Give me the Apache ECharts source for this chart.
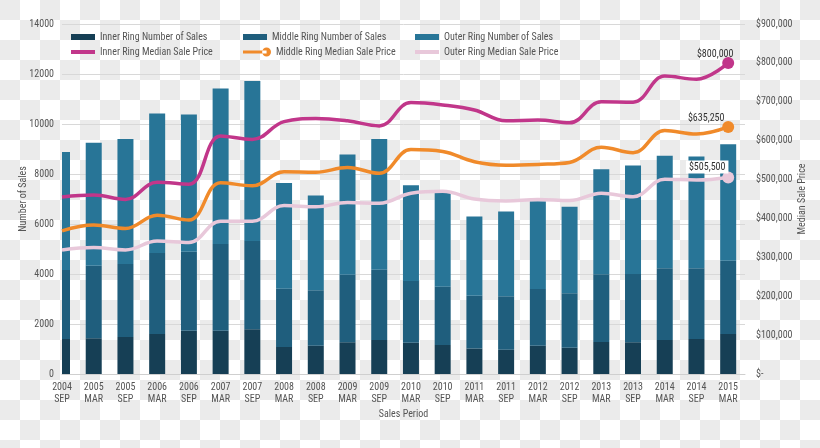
<!DOCTYPE html>
<html>
<head>
<meta charset="utf-8">
<script src="https://cdn.jsdelivr.net/npm/echarts@6/dist/echarts.min.js"></script>
<style>
html,body{margin:0;padding:0;}
body{width:820px;height:448px;
background-image:conic-gradient(#ffffff 25%, #ebebeb 0 50%, #ffffff 0 75%, #ebebeb 0);
background-size:40px 40px;}
#c{width:820px;height:448px;}
</style>
</head>
<body>
<div id="c"></div>
<script>
const categories = ['2004\nSEP','2005\nMAR','2005\nSEP','2006\nMAR','2006\nSEP','2007\nMAR','2007\nSEP','2008\nMAR','2008\nSEP','2009\nMAR','2009\nSEP','2010\nMAR','2010\nSEP','2011\nMAR','2011\nSEP','2012\nMAR','2012\nSEP','2013\nMAR','2013\nSEP','2014\nMAR','2014\nSEP','2015\nMAR'];
const innerSales  = [1400,1430,1480,1600,1730,1730,1790,1080,1130,1270,1360,1250,1160,1020,970,1130,1050,1280,1270,1360,1400,1600];
const middleSales = [2760,2900,2920,3240,3160,3470,3530,2330,2220,2700,2810,2470,2330,2110,2140,2270,2180,2710,2730,2870,2830,2930];
const outerSales  = [4720,4920,5000,5580,5490,6220,6400,4230,3790,4810,5230,3830,3820,3170,3390,3510,3460,4200,4340,4500,4470,4660];
const innerPrice  = [455000,460000,449000,493000,488000,612000,603000,649000,657000,651000,638000,698000,692000,679000,651000,653000,646000,700000,699000,766000,758000,800000];
const middlePrice = [368000,383000,374000,408000,396000,492000,484000,520000,519000,531000,516000,577000,572000,546000,537000,539000,544000,583000,569000,626000,617000,635250];
const outerPrice  = [319000,325000,319000,342000,338000,393000,393000,433000,430000,441000,439000,465000,470000,450000,445000,449000,446000,465000,456000,501000,499000,505500];
const salesTicks = [0,2000,4000,6000,8000,10000,12000,14000];
const priceTicks = [0,100000,200000,300000,400000,500000,600000,700000,800000,900000];

const FONT = "'Liberation Sans Narrow','Arial Narrow','Roboto Condensed','Liberation Sans',sans-serif";
const C = {
  inner:'#163f55', middle:'#1f5e7d', outer:'#287597',
  innerP:'#c1368a', middleP:'#f08a2a', outerP:'#e8c8da'
};
const money = v => v === 0 ? '$-' : '$' + v.toLocaleString('en-US');

// stacked segments [index, base, top]
const innerTop  = innerSales.slice();
const middleTop = innerSales.map((v,i)=>v + middleSales[i]);
const outerTop  = middleTop.map((v,i)=>v + outerSales[i]);
const seg = (base, top) => top.map((t,i)=>[i, base ? base[i] : 0, t]);

function barRender(color){
  return function(params, api){
    const i = api.value(0);
    const p0 = api.coord([i, api.value(1)]);
    const p1 = api.coord([i, api.value(2)]);
    const half = 8;
    const rect = echarts.graphic.clipRectByRect(
      {x:p0[0]-half, y:p1[1], width:half*2, height:p0[1]-p1[1]},
      {x:params.coordSys.x, y:params.coordSys.y, width:params.coordSys.width, height:params.coordSys.height});
    if (!rect) return;
    return {type:'rect', shape:rect, style:{fill:color}};
  };
}
function barSeries(name, data, color, z){
  return {name:name, type:'custom', renderItem:barRender(color), data:data,
    encode:{x:0, y:[1,2]}, itemStyle:{color:color}, z:z, clip:true};
}

function pts(arr){ return arr.map((v,i)=>[i,v]); }
function linePts(arr, color, labelOpt){
  const d = pts(arr);
  const last = d.length-1;
  d[last] = {value:d[last], symbol:'circle', symbolSize:12,
    itemStyle:{color:color},
    label:Object.assign({show:true, formatter: money(arr[last]), position:'top',
      fontFamily:FONT, fontSize:10, color:'#333'}, labelOpt)};
  return d;
}

const chart = echarts.init(document.getElementById('c'));
const textStyle = {fontFamily:FONT, fontSize:10, color:'#555'};
function leg(name, left, top, opts){
  return Object.assign({data:[name], left:left, top:top, itemWidth:24, itemHeight:6,
    icon:'rect', textStyle:textStyle, selectedMode:false, padding:0, itemGap:0}, opts||{});
}
chart.setOption({
  animation:false,
  textStyle:{fontFamily:FONT},
  legend:[
    leg('Inner Ring Number of Sales', 71, 32),
    leg('Middle Ring Number of Sales', 243, 32),
    leg('Outer Ring Number of Sales', 415, 32),
    leg('Inner Ring Median Sale Price', 71, 47, {itemHeight:4}),
    leg('Middle Ring Median Sale Price', 243, 47, {itemWidth:28, itemHeight:9,
      icon:'path://M0,3L24,3L24,6L0,6Z M19.5,4.5 a4.5,4.5 0 1,0 9,0 a4.5,4.5 0 1,0 -9,0Z'}),
    leg('Outer Ring Median Sale Price', 415, 47, {itemHeight:4})
  ],
  grid:{left:62, right:75, top:24, bottom:74},
  xAxis:{
    type:'value', min:0, max:21.53, interval:1,
    name:'Sales Period', nameLocation:'middle', nameGap:35, nameMoveOverlap:false,
    nameTextStyle:{fontFamily:FONT, fontSize:10, color:'#555'},
    axisLine:{show:true, lineStyle:{color:'#cfcfcf'}},
    axisTick:{show:false},
    splitLine:{show:false},
    axisLabel:{showMaxLabel:false, margin:7, lineHeight:12, fontFamily:FONT, fontSize:10, color:'#555',
      formatter:v => categories[Math.round(v)] || ''}
  },
  yAxis:[
    {type:'value', min:salesTicks[0], max:salesTicks[salesTicks.length-1], interval:2000,
     name:'Number of Sales', nameLocation:'middle', nameGap:34, nameMoveOverlap:false,
     nameTextStyle:{fontFamily:FONT, fontSize:10, color:'#555'},
     axisLine:{show:false}, axisTick:{show:false},
     splitLine:{lineStyle:{color:'#d8d8d8'}},
     axisLabel:{margin:8, fontFamily:FONT, fontSize:10, color:'#555', formatter:v=>String(v)}},
    {type:'value', min:priceTicks[0], max:priceTicks[priceTicks.length-1], interval:100000,
     name:'Median Sale Price', nameLocation:'middle', nameGap:52, nameMoveOverlap:false,
     nameTextStyle:{fontFamily:FONT, fontSize:10, color:'#555'},
     axisLine:{show:false}, axisTick:{show:false}, splitLine:{show:false},
     axisLabel:{margin:11, fontFamily:FONT, fontSize:10, color:'#555', formatter:money}}
  ],
  series:[
    barSeries('Inner Ring Number of Sales', seg(null, innerTop), C.inner, 2),
    barSeries('Middle Ring Number of Sales', seg(innerTop, middleTop), C.middle, 2),
    barSeries('Outer Ring Number of Sales', seg(middleTop, outerTop), C.outer, 2),
    {name:'Inner Ring Median Sale Price', type:'line', yAxisIndex:1, smooth:0.4, symbol:'none', showSymbol:true,
     lineStyle:{width:3.5, color:C.innerP}, itemStyle:{color:C.innerP}, z:5,
     data:linePts(innerPrice, C.innerP, {offset:[-13,8]})},
    {name:'Middle Ring Median Sale Price', type:'line', yAxisIndex:1, smooth:0.4, symbol:'none', showSymbol:true,
     lineStyle:{width:3.5, color:C.middleP}, itemStyle:{color:C.middleP}, z:5,
     data:linePts(middlePrice, C.middleP, {offset:[-22,8]})},
    {name:'Outer Ring Median Sale Price', type:'line', yAxisIndex:1, smooth:0.4, symbol:'none', showSymbol:true,
     lineStyle:{width:3.5, color:C.outerP}, itemStyle:{color:C.outerP}, z:5,
     data:linePts(outerPrice, C.outerP, {offset:[-21,7], backgroundColor:'#fff', padding:[2,3,1,3]})}
  ]
});
</script>
</body>
</html>
